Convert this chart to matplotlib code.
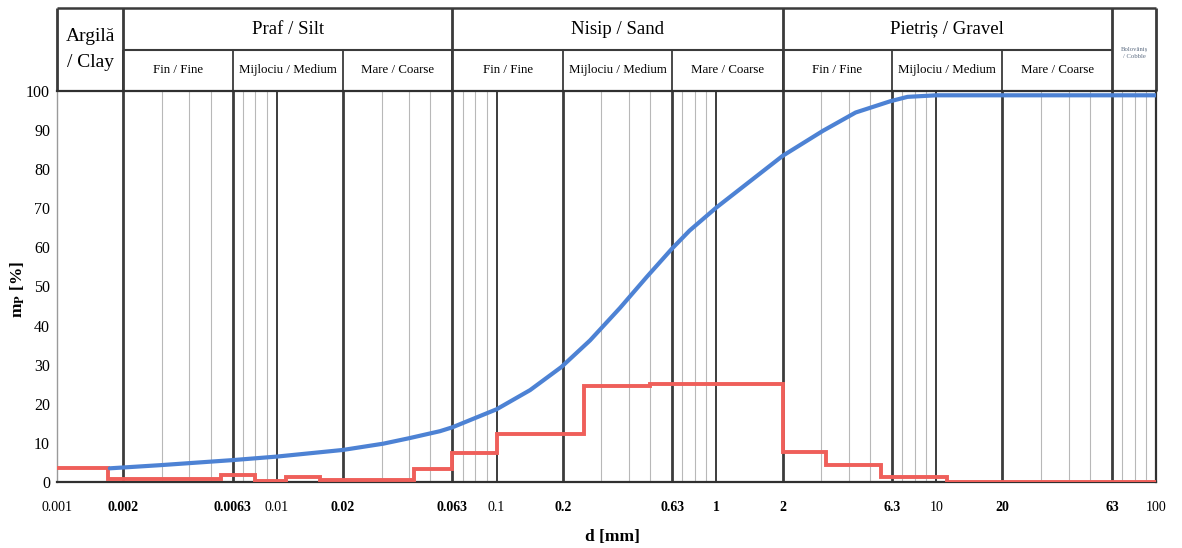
import matplotlib
matplotlib.use("Agg")
import matplotlib.pyplot as plt

# ---------------- data ----------------
# cumulative passing curve (blue)
d_cum = [0.00174, 0.00294, 0.0063, 0.01, 0.02, 0.0305, 0.04, 0.0553, 0.063, 0.1,
         0.142, 0.197, 0.266, 0.364, 0.483, 0.626, 0.755, 1.0, 2.0, 3.05, 4.3,
         6.2, 7.4, 10, 20, 63, 100]
p_cum = [3.5, 4.3, 5.6, 6.5, 8.2, 9.8, 11.2, 13.0, 14.0, 18.6,
         23.5, 29.4, 36.2, 44.5, 52.5, 59.6, 64.3, 70.2, 83.4, 89.8, 94.5,
         97.4, 98.5, 98.9, 98.9, 98.9, 98.9]

# fraction per size interval (red step line)
step_edges = [0.001, 0.0017, 0.0056, 0.008, 0.011, 0.0157, 0.042, 0.063, 0.1,
              0.25, 0.5, 2, 3.15, 5.6, 11.2, 100]
step_vals = [3.6, 0.8, 1.8, 0.3, 1.4, 0.5, 3.2, 7.4, 12.3, 24.6, 25.1, 7.7,
             4.3, 1.3, 0.1]

x_ticks = [0.001, 0.002, 0.0063, 0.01, 0.02, 0.063, 0.1, 0.2, 0.63, 1, 2, 6.3,
           10, 20, 63, 100]
x_tick_labels = ["0.001", "0.002", "0.0063", "0.01", "0.02", "0.063", "0.1",
                 "0.2", "0.63", "1", "2", "6.3", "10", "20", "63", "100"]
bold_ticks = {0.002, 0.0063, 0.02, 0.063, 0.2, 0.63, 1, 2, 6.3, 20, 63}
y_ticks = [0, 10, 20, 30, 40, 50, 60, 70, 80, 90, 100]

main_classes = [("Argilă\n/ Clay", 0.001, 0.002),
                ("Praf / Silt", 0.002, 0.063),
                ("Nisip / Sand", 0.063, 2),
                ("Pietriș / Gravel", 2, 63)]
sub_classes = [("Fin / Fine", 0.002, 0.0063), ("Mijlociu / Medium", 0.0063, 0.02),
               ("Mare / Coarse", 0.02, 0.063),
               ("Fin / Fine", 0.063, 0.2), ("Mijlociu / Medium", 0.2, 0.63),
               ("Mare / Coarse", 0.63, 2),
               ("Fin / Fine", 2, 6.3), ("Mijlociu / Medium", 6.3, 20),
               ("Mare / Coarse", 20, 63)]
cobble_label = ("Bolovăniș\n/ Cobble", 63, 100)

grid_mult = [1, 2, 3, 4, 5, 6.3, 7, 8, 9]
# --------------------------------------

SERIF = ["Liberation Serif", "DejaVu Serif"]
plt.rcParams["font.family"] = SERIF
plt.rcParams["mathtext.fontset"] = "stix"

W, H = 1182, 548
fig = plt.figure(figsize=(W / 100, H / 100), dpi=100)
L, R, T, B = 57, 1156, 91, 482
ax = fig.add_axes([L / W, 1 - B / H, (R - L) / W, (B - T) / H])

ax.set_xscale("log")
ax.set_xlim(0.001, 100)
ax.set_ylim(0, 100)

# vertical grid
for e in range(-3, 2):
    for m in grid_mult:
        v = m * 10 ** e
        if v <= 0.001 * 1.0001:
            continue
        if m in (1, 2, 6.3):
            lw = 2.0 if m in (2, 6.3) else 1.4
            ax.axvline(v, color="#3c3c3c", lw=lw, zorder=1)
        else:
            ax.axvline(v, color="#b8b8b8", lw=0.8, zorder=1)

# curves
ax.stairs(step_vals, step_edges, baseline=None, color="#ef5f5a", lw=2.8, zorder=3)
ax.plot(d_cum, p_cum, color="#4d82d4", lw=3.0, zorder=4,
        solid_capstyle="round", solid_joinstyle="round")

# spines
for s in ("top", "right", "bottom"):
    ax.spines[s].set_color("#303030")
    ax.spines[s].set_linewidth(1.6)
ax.spines["left"].set_color("#9a9a9a")
ax.spines["left"].set_linewidth(1.0)

# ticks
ax.set_xticks(x_ticks)
ax.set_xticklabels(x_tick_labels)
ax.xaxis.set_minor_locator(matplotlib.ticker.NullLocator())
ax.tick_params(axis="x", length=0, pad=14, labelsize=10)
for lab, v in zip(ax.get_xticklabels(), x_ticks):
    if v in bold_ticks:
        lab.set_fontweight("bold")
ax.set_yticks(y_ticks)
ax.tick_params(axis="y", length=0, pad=5, labelsize=11.5)

# axis labels
fig.text(18 / W, 1 - 290 / H, r"m$_\mathbf{P}$ [%]", rotation=90, ha="center",
         va="center", fontsize=12.5, fontweight="bold")
fig.text(612 / W, 1 - 537 / H, "d [mm]", ha="center", va="center",
         fontsize=12.5, fontweight="bold")

# header table
tr = ax.get_xaxis_transform()
y_top = (B - 8) / (B - T)
y_mid = (B - 50) / (B - T)
hc = "#3a3a3a"


def hline(x0, x1, y, lw=1.8):
    ax.plot([x0, x1], [y, y], transform=tr, color=hc, lw=lw, clip_on=False,
            solid_capstyle="butt")


def vline(x, y0, y1, lw=1.8):
    ax.plot([x, x], [y0, y1], transform=tr, color=hc, lw=lw, clip_on=False,
            solid_capstyle="butt")


hline(0.001, 100, y_top)
hline(0.002, 63, y_mid, lw=1.5)
for x in (0.001, 0.002, 0.063, 2, 63, 100):
    vline(x, 1.0, y_top, lw=2.0)
for _, x0, x1 in sub_classes:
    vline(x0, 1.0, y_mid, lw=1.3)


def gmid(a, b):
    return (a * b) ** 0.5


for name, x0, x1 in main_classes:
    if "\n" in name:
        ax.text(gmid(x0, x1), (1.0 + y_top) / 2, name, transform=tr,
                ha="center", va="center", fontsize=14, linespacing=1.75)
    else:
        ax.text(gmid(x0, x1), (y_mid + y_top) / 2, name, transform=tr,
                ha="center", va="center", fontsize=13.5)
for name, x0, x1 in sub_classes:
    ax.text(gmid(x0, x1), (1.0 + y_mid) / 2, name, transform=tr,
            ha="center", va="center", fontsize=9.3)
name, x0, x1 = cobble_label
ax.text(gmid(x0, x1), (B - 53) / (B - T), name, transform=tr,
        ha="center", va="center", fontsize=4.8, color="#5a6a80", linespacing=1.6)

fig.savefig("out.png", dpi=100, facecolor="white")
